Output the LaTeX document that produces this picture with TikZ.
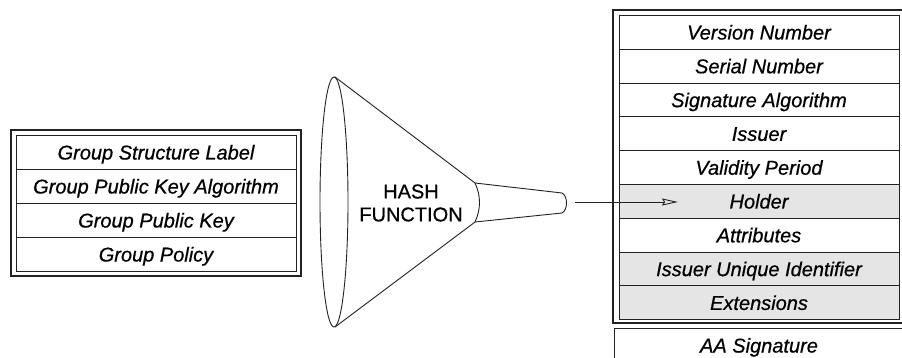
\documentclass[tikz,border=0pt]{standalone}
\usepackage{fontspec}
\setmainfont{Liberation Sans}[FakeBold=0.6]
\newfontfamily\heavy{Liberation Sans}[FakeBold=0.6,ItalicFeatures={FakeBold=0.6}]
\usetikzlibrary{arrows.meta}
\definecolor{shade}{HTML}{E5E5E5}
\definecolor{ink}{HTML}{222222}
\begin{document}
\begin{tikzpicture}[x=1pt,y=-1pt,
  fld/.style={draw=ink, line width=0.9pt, minimum width=280pt, minimum height=33.8pt,
    inner sep=0pt, text height=14.3pt, text depth=0pt, anchor=north,
    font=\fontsize{20}{23}\selectfont\heavy\itshape},
  shd/.style={fld, fill=shade},
  frame/.style={draw=ink, line width=1.4pt},
  funnel/.style={draw=ink, line width=0.9pt},
  conn/.style={draw=ink, line width=0.9pt, -{Stealth[open, inset=2pt, length=16pt, width=7pt]}}]
\useasboundingbox (0,0) rectangle (902,358);
\fill[white] (0,0) rectangle (902,358);

% left box
\draw[frame] (11,130) rectangle (301,276);
\node[fld] (g1) at (156,135) {Group Structure Label};
\node[fld] (g2) at (156,169) {Group Public Key Algorithm};
\node[fld] (g3) at (156,203) {Group Public Key};
\node[fld] (g4) at (156,237) {Group Policy};

% funnel
\draw[funnel] (334,202) ellipse [x radius=14, y radius=125];
\draw[funnel] (335,77) -- (475,183)
  .. controls (481,196) and (481,209) .. (475,222) -- (335,327);
\draw[funnel] (475,183) -- (562,193)
  .. controls (568,196) and (568,210) .. (562,213) -- (475,222);
\node[align=center, font=\fontsize{20}{23}\selectfont\heavy, inner sep=0pt] (hash) at (411,203) {HASH\\FUNCTION};

% right box
\draw[frame] (613,10) rectangle (908,323);
\node[fld] (r1) at (759,15.0) {Version Number};
\node[fld] (r2) at (759,48.8) {Serial Number};
\node[fld] (r3) at (759,82.6) {Signature Algorithm};
\node[fld] (r4) at (759,116.4) {Issuer};
\node[fld] (r5) at (759,150.2) {Validity Period};
\node[shd] (r6) at (759,184.0) {Holder};
\node[fld] (r7) at (759,217.8) {Attributes};
\node[shd] (r8) at (759,251.6) {Issuer Unique Identifier};
\node[shd] (r9) at (759,285.4) {Extensions};

% AA signature
\node[fld, minimum width=290pt, line width=1pt] (aa) at (759,328) {AA Signature};

% arrow
\coordinate (src) at (575,202);
\coordinate (tip) at (678,202);
\draw[conn] (src) -- (tip);
\end{tikzpicture}
\end{document}
